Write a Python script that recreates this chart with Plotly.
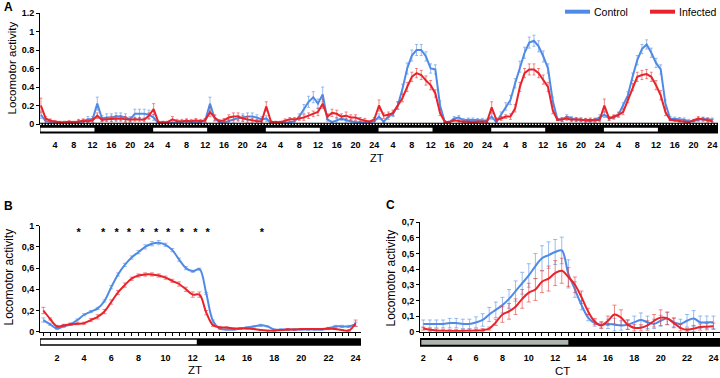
import plotly.graph_objects as go

# ---------------- Panel A : 6 days, hourly means ----------------
ZT_A = list(range(1, 145))
CTRL_A = [
    # day 1
    0.10, 0.03, 0.025, 0.02, 0.01, 0.01, 0.01, 0.01, 0.02, 0.03, 0.05, 0.05,
    0.22, 0.06, 0.07, 0.07, 0.08, 0.08, 0.07, 0.05, 0.11, 0.11, 0.11, 0.10,
    # day 2
    0.07, 0.01, 0.01, 0.01, 0.01, 0.02, 0.02, 0.03, 0.02, 0.02, 0.02, 0.04,
    0.22, 0.06, 0.02, 0.02, 0.03, 0.05, 0.06, 0.07, 0.08, 0.08, 0.07, 0.05,
    # day 3
    0.06, 0.01, 0.01, 0.01, 0.015, 0.02, 0.03, 0.08, 0.16, 0.24, 0.29, 0.22,
    0.32, 0.05, 0.02, 0.04, 0.06, 0.04, 0.03, 0.02, 0.02, 0.02, 0.02, 0.03,
    # day 4
    0.08, 0.025, 0.08, 0.11, 0.20, 0.38, 0.60, 0.74, 0.80, 0.80, 0.73, 0.60,
    0.59, 0.20, 0.025, 0.02, 0.06, 0.07, 0.04, 0.045, 0.045, 0.04, 0.04, 0.035,
    # day 5
    0.08, 0.02, 0.10, 0.19, 0.26, 0.44, 0.62, 0.77, 0.88, 0.90, 0.84, 0.73,
    0.60, 0.25, 0.05, 0.045, 0.08, 0.06, 0.045, 0.045, 0.04, 0.03, 0.045, 0.07,
    # day 6
    0.10, 0.06, 0.07, 0.10, 0.20, 0.31, 0.51, 0.69, 0.81, 0.86, 0.77, 0.66,
    0.59, 0.22, 0.06, 0.055, 0.05, 0.045, 0.03, 0.03, 0.045, 0.055, 0.05, 0.045,
]
INF_A = [
    0.20, 0.06, 0.035, 0.025, 0.02, 0.02, 0.025, 0.02, 0.03, 0.035, 0.03, 0.04,
    0.09, 0.045, 0.05, 0.055, 0.06, 0.06, 0.05, 0.045, 0.05, 0.05, 0.045, 0.09,
    0.16, 0.02, 0.02, 0.02, 0.05, 0.03, 0.03, 0.035, 0.03, 0.04, 0.03, 0.04,
    0.13, 0.07, 0.03, 0.04, 0.07, 0.08, 0.08, 0.06, 0.05, 0.04, 0.03, 0.03,
    0.19, 0.025, 0.02, 0.02, 0.035, 0.05, 0.05, 0.06, 0.07, 0.09, 0.11, 0.13,
    0.22, 0.08, 0.12, 0.11, 0.08, 0.09, 0.07, 0.07, 0.05, 0.04, 0.025, 0.05,
    0.20, 0.09, 0.10, 0.12, 0.20, 0.28, 0.40, 0.51, 0.55, 0.53, 0.47, 0.42,
    0.33, 0.12, 0.025, 0.02, 0.04, 0.03, 0.025, 0.025, 0.02, 0.025, 0.025, 0.025,
    0.18, 0.045, 0.06, 0.08, 0.08, 0.17, 0.40, 0.55, 0.59, 0.59, 0.55, 0.48,
    0.40, 0.15, 0.045, 0.05, 0.06, 0.045, 0.05, 0.045, 0.04, 0.045, 0.04, 0.045,
    0.20, 0.06, 0.08, 0.10, 0.13, 0.26, 0.40, 0.51, 0.53, 0.54, 0.51, 0.42,
    0.31, 0.13, 0.045, 0.04, 0.03, 0.03, 0.02, 0.04, 0.06, 0.05, 0.04, 0.03,
]
CTRL_A_ERR = [
    0.04, 0.02, 0.02, 0.01, 0.01, 0.01, 0.01, 0.01, 0.02, 0.02, 0.03, 0.03,
    0.07, 0.03, 0.04, 0.04, 0.04, 0.04, 0.04, 0.03, 0.05, 0.05, 0.05, 0.05,
    0.03, 0.01, 0.01, 0.01, 0.01, 0.01, 0.01, 0.02, 0.01, 0.01, 0.01, 0.02,
    0.07, 0.03, 0.01, 0.01, 0.02, 0.03, 0.03, 0.04, 0.04, 0.04, 0.03, 0.03,
    0.03, 0.01, 0.01, 0.01, 0.01, 0.01, 0.02, 0.03, 0.05, 0.06, 0.06, 0.05,
    0.08, 0.02, 0.01, 0.02, 0.02, 0.02, 0.02, 0.01, 0.01, 0.01, 0.01, 0.02,
    0.03, 0.01, 0.03, 0.03, 0.04, 0.05, 0.06, 0.06, 0.06, 0.06, 0.05, 0.05,
    0.05, 0.05, 0.01, 0.01, 0.02, 0.02, 0.02, 0.02, 0.02, 0.02, 0.02, 0.02,
    0.03, 0.01, 0.03, 0.04, 0.05, 0.05, 0.06, 0.06, 0.06, 0.06, 0.06, 0.06,
    0.05, 0.04, 0.01, 0.02, 0.02, 0.02, 0.02, 0.02, 0.02, 0.02, 0.02, 0.03,
    0.03, 0.02, 0.02, 0.03, 0.03, 0.04, 0.04, 0.05, 0.05, 0.05, 0.05, 0.05,
    0.05, 0.04, 0.02, 0.02, 0.02, 0.02, 0.02, 0.01, 0.02, 0.02, 0.02, 0.02,
]
INF_A_ERR = [
    0.08, 0.02, 0.02, 0.01, 0.01, 0.01, 0.01, 0.01, 0.02, 0.02, 0.02, 0.02,
    0.03, 0.02, 0.02, 0.03, 0.03, 0.03, 0.03, 0.02, 0.02, 0.02, 0.02, 0.03,
    0.06, 0.01, 0.01, 0.01, 0.03, 0.02, 0.02, 0.02, 0.02, 0.02, 0.02, 0.02,
    0.05, 0.03, 0.02, 0.02, 0.03, 0.04, 0.04, 0.03, 0.03, 0.02, 0.02, 0.02,
    0.05, 0.01, 0.01, 0.01, 0.02, 0.02, 0.02, 0.02, 0.03, 0.03, 0.03, 0.04,
    0.05, 0.03, 0.04, 0.04, 0.03, 0.04, 0.03, 0.03, 0.02, 0.02, 0.01, 0.02,
    0.06, 0.03, 0.03, 0.03, 0.04, 0.04, 0.05, 0.05, 0.05, 0.05, 0.05, 0.05,
    0.04, 0.03, 0.01, 0.01, 0.01, 0.01, 0.01, 0.01, 0.01, 0.01, 0.01, 0.01,
    0.06, 0.02, 0.02, 0.02, 0.03, 0.04, 0.05, 0.05, 0.06, 0.06, 0.05, 0.05,
    0.05, 0.04, 0.01, 0.02, 0.02, 0.02, 0.02, 0.02, 0.02, 0.02, 0.02, 0.02,
    0.07, 0.02, 0.02, 0.02, 0.03, 0.03, 0.04, 0.05, 0.05, 0.05, 0.05, 0.05,
    0.05, 0.04, 0.01, 0.01, 0.01, 0.01, 0.01, 0.01, 0.02, 0.02, 0.02, 0.02,
]
A_DAY_TICKS = [4, 8, 12, 16, 20, 24]
N_DAYS = 6

# ---------------- Panel B : mean day profile (ZT) ----------------
ZT_B = [1 + 0.5 * i for i in range(47)]
CTRL_B = [
    0.11, 0.07, 0.03, 0.05, 0.07, 0.11, 0.16, 0.19, 0.22, 0.29, 0.42, 0.54,
    0.63, 0.70, 0.75, 0.80, 0.83, 0.84, 0.82, 0.77, 0.68, 0.60, 0.57, 0.59,
    0.36, 0.10, 0.03, 0.02, 0.02, 0.03, 0.04, 0.05, 0.06, 0.05, 0.02, 0.02,
    0.02, 0.02, 0.02, 0.02, 0.02, 0.02, 0.03, 0.05, 0.05, 0.05, 0.07,
]
INF_B = [
    0.20, 0.12, 0.05, 0.06, 0.07, 0.075, 0.08, 0.11, 0.14, 0.19, 0.28, 0.37,
    0.44, 0.50, 0.53, 0.54, 0.54, 0.53, 0.51, 0.48, 0.45, 0.40, 0.35, 0.35,
    0.18, 0.06, 0.04, 0.04, 0.03, 0.03, 0.03, 0.025, 0.015, 0.01, 0.01, 0.015,
    0.02, 0.02, 0.025, 0.025, 0.025, 0.025, 0.03, 0.025, 0.015, 0.01, 0.08,
]
CTRL_B_ERR = [
    0.02, 0.01, 0.01, 0.01, 0.01, 0.01, 0.01, 0.01, 0.01, 0.01, 0.015, 0.015,
    0.015, 0.015, 0.015, 0.02, 0.02, 0.02, 0.015, 0.015, 0.015, 0.015, 0.01, 0.01,
    0.01, 0.01, 0.01, 0.005, 0.005, 0.005, 0.005, 0.005, 0.01, 0.005, 0.005, 0.005,
    0.005, 0.005, 0.005, 0.005, 0.005, 0.005, 0.01, 0.01, 0.01, 0.01, 0.02,
]
INF_B_ERR = [
    0.03, 0.01, 0.01, 0.01, 0.01, 0.01, 0.01, 0.015, 0.02, 0.02, 0.02, 0.02,
    0.02, 0.015, 0.015, 0.015, 0.015, 0.015, 0.015, 0.015, 0.02, 0.02, 0.025, 0.025,
    0.02, 0.01, 0.01, 0.005, 0.005, 0.005, 0.005, 0.005, 0.005, 0.005, 0.005, 0.005,
    0.01, 0.005, 0.005, 0.005, 0.005, 0.005, 0.01, 0.005, 0.005, 0.01, 0.03,
]
STAR_ZT = [3.6, 5.4, 6.4, 7.3, 8.3, 9.3, 10.2, 11.2, 12.2, 13.1, 17.1]
STAR_LEVEL = 0.93

# ---------------- Panel C : constant darkness (CT) ----------------
CT_C = [2 + 0.5 * i for i in range(45)]
CTRL_C = [
    0.05, 0.05, 0.05, 0.05, 0.055, 0.055, 0.05, 0.05, 0.06, 0.075, 0.11, 0.14,
    0.17, 0.21, 0.26, 0.31, 0.36, 0.42, 0.47, 0.49, 0.51, 0.52, 0.37, 0.27,
    0.17, 0.09, 0.055, 0.045, 0.05, 0.045, 0.04, 0.045, 0.06, 0.075, 0.06, 0.05,
    0.07, 0.085, 0.06, 0.05, 0.07, 0.085, 0.06, 0.06, 0.06,
]
INF_C = [
    0.02, 0.012, 0.008, 0.006, 0.005, 0.005, 0.005, 0.006, 0.007, 0.01, 0.02, 0.06,
    0.11, 0.13, 0.16, 0.21, 0.25, 0.27, 0.32, 0.34, 0.375, 0.39, 0.35, 0.30,
    0.22, 0.13, 0.065, 0.04, 0.07, 0.11, 0.09, 0.045, 0.025, 0.025, 0.04, 0.07,
    0.09, 0.085, 0.055, 0.025, 0.012, 0.02, 0.03, 0.032, 0.035,
]
CTRL_C_ERR = [
    0.025, 0.025, 0.025, 0.025, 0.03, 0.03, 0.03, 0.03, 0.035, 0.04, 0.045, 0.05,
    0.05, 0.06, 0.065, 0.07, 0.075, 0.08, 0.08, 0.085, 0.08, 0.085, 0.09, 0.05,
    0.03, 0.02, 0.02, 0.02, 0.03, 0.04, 0.03, 0.03, 0.04, 0.045, 0.04, 0.03,
    0.035, 0.04, 0.03, 0.03, 0.04, 0.05, 0.04, 0.04, 0.04,
]
INF_C_ERR = [
    0.01, 0.01, 0.01, 0.01, 0.01, 0.01, 0.01, 0.01, 0.01, 0.01, 0.01, 0.02,
    0.05, 0.05, 0.05, 0.06, 0.06, 0.07, 0.07, 0.08, 0.08, 0.08, 0.06, 0.05,
    0.04, 0.02, 0.02, 0.02, 0.03, 0.06, 0.05, 0.03, 0.02, 0.02, 0.03, 0.04,
    0.05, 0.04, 0.03, 0.02, 0.01, 0.02, 0.02, 0.02, 0.02,
]
SERIES_NAMES = ["Control", "Infected"]

# ---------------- styling ----------------
W, H = 720, 378
BLUE = "#4f8be6"
RED = "#e8232b"
BLUE_ERR = "rgba(90,145,230,0.6)"
RED_ERR = "rgba(232,60,60,0.6)"
FONT = "Liberation Sans, Arial, sans-serif"


def py(p):
    return 1 - p / H


def series(x, y, err, color, ecolor, xa, ya, shape, ew, name):
    return go.Scatter(
        x=x, y=y, mode="lines", xaxis=xa, yaxis=ya, showlegend=False, name=name,
        hoverinfo="skip", line=dict(color=color, width=2, shape=shape, smoothing=1.0),
        error_y=dict(type="data", array=err, visible=True, color=ecolor,
                     thickness=1, width=ew),
    )


fig = go.Figure()
fig.add_trace(series(ZT_A, CTRL_A, CTRL_A_ERR, BLUE, BLUE_ERR, "x", "y", "linear", 1.5, SERIES_NAMES[0]))
fig.add_trace(series(ZT_A, INF_A, INF_A_ERR, RED, RED_ERR, "x", "y", "linear", 1.5, SERIES_NAMES[1]))
fig.add_trace(series(ZT_B, CTRL_B, CTRL_B_ERR, BLUE, BLUE_ERR, "x2", "y2", "spline", 2, SERIES_NAMES[0]))
fig.add_trace(series(ZT_B, INF_B, INF_B_ERR, RED, RED_ERR, "x2", "y2", "spline", 2, SERIES_NAMES[1]))
fig.add_trace(series(CT_C, CTRL_C, CTRL_C_ERR, BLUE, BLUE_ERR, "x3", "y3", "spline", 2, SERIES_NAMES[0]))
fig.add_trace(series(CT_C, INF_C, INF_C_ERR, RED, RED_ERR, "x3", "y3", "spline", 2, SERIES_NAMES[1]))

# significance stars
fig.add_trace(go.Scatter(
    x=STAR_ZT, y=[STAR_LEVEL] * len(STAR_ZT), mode="text", text=["*"] * len(STAR_ZT),
    textfont=dict(family=FONT, size=11, color="black", weight="bold"),
    xaxis="x2", yaxis="y2", showlegend=False, hoverinfo="skip", cliponaxis=False,
))

tickfont = dict(family=FONT, size=9, color="black", weight="bold")
base_ax = dict(showline=True, linecolor="black", linewidth=1, showgrid=False,
               zeroline=False, tickfont=tickfont, tickcolor="black", tickwidth=1,
               automargin=False, ticklabeloverflow="allow")

a_tickvals = [d * 24 + t for d in range(N_DAYS) for t in A_DAY_TICKS]
a_ticktext = [str(t) for d in range(N_DAYS) for t in A_DAY_TICKS]

fig.update_layout(
    template="none",
    width=W, height=H, margin=dict(l=0, r=0, t=0, b=0, pad=0),
    paper_bgcolor="white", plot_bgcolor="white",
    font=dict(family=FONT, color="black"),
    showlegend=False,
    xaxis=dict(base_ax, domain=[40 / W, 718 / W], range=[0.8, 145.2], anchor="y",
               tickvals=a_tickvals, ticktext=a_ticktext, ticks="", ticklabelstandoff=12),
    yaxis=dict(base_ax, domain=[py(124), py(13)], range=[0, 1.2], anchor="x",
               tickvals=[0, 0.2, 0.4, 0.6, 0.8, 1.0, 1.2],
               ticktext=["0", "0.2", "0.4", "0.6", "0.8", "1", "1.2"],
               ticks="outside", ticklen=3),
    xaxis2=dict(base_ax, domain=[40 / W, 361 / W], range=[0.75, 24.4], anchor="y2",
                tickvals=list(range(2, 25, 2)), ticks="outside", ticklen=3,
                minor=dict(ticks="outside", ticklen=3, dtick=0.5, tick0=0,
                           tickcolor="black", tickwidth=1),
                ticklabelstandoff=14),
    yaxis2=dict(base_ax, domain=[py(331.7), py(225.7)], range=[0, 1], anchor="x2",
                tickvals=[0, 0.2, 0.4, 0.6, 0.8, 1.0],
                ticktext=["0", "0,2", "0,4", "0,6", "0,8", "1"],
                ticks="outside", ticklen=3),
    xaxis3=dict(base_ax, domain=[420 / W, 1.0], range=[1.75, 24.5], anchor="y3",
                tickvals=list(range(2, 25, 2)), ticks="outside", ticklen=3,
                minor=dict(ticks="outside", ticklen=3, dtick=0.5, tick0=0,
                           tickcolor="black", tickwidth=1),
                ticklabelstandoff=14),
    yaxis3=dict(base_ax, domain=[py(331.7), py(222.3)], range=[0, 0.7], anchor="x3",
                tickvals=[0, 0.1, 0.2, 0.3, 0.4, 0.5, 0.6, 0.7],
                ticktext=["0", "0,1", "0,2", "0,3", "0,4", "0,5", "0,6", "0,7"],
                ticks="outside", ticklen=3),
)

shapes = []
# Panel A light/dark bar
shapes.append(dict(type="rect", xref="x", yref="paper", x0=0.8, x1=145.2,
                   y0=py(133.5), y1=py(126), fillcolor="black", line=dict(width=0)))
for d in range(N_DAYS):
    shapes.append(dict(type="rect", xref="x", yref="paper",
                       x0=max(0.8, d * 24 + 0.9), x1=d * 24 + 12.4,
                       y0=py(131.6), y1=py(127.8), fillcolor="white", line=dict(width=0)))
# dotted baseline strip in panel A
shapes.append(dict(type="rect", xref="x", yref="paper", x0=0.8, x1=145.2,
                   y0=py(126), y1=py(122.8), fillcolor="black", line=dict(width=0)))
shapes.append(dict(type="line", xref="x", yref="paper", x0=0.8, x1=145.2,
                   y0=py(124.4), y1=py(124.4),
                   line=dict(color="white", width=1.2, dash="1.5px,1.5px")))
# Panel B bar
shapes.append(dict(type="rect", xref="x2", yref="paper", x0=0.75, x1=24.4,
                   y0=py(345.7), y1=py(338.3), fillcolor="black", line=dict(width=0)))
shapes.append(dict(type="rect", xref="x2", yref="paper", x0=0.8, x1=12.3,
                   y0=py(344.3), y1=py(339.7), fillcolor="white", line=dict(width=0)))
# Panel C bar
shapes.append(dict(type="rect", xref="x3", yref="paper", x0=1.75, x1=24.5,
                   y0=py(346.7), y1=py(338), fillcolor="black", line=dict(width=0)))
shapes.append(dict(type="rect", xref="x3", yref="paper", x0=1.85, x1=13.0,
                   y0=py(344.8), y1=py(340), fillcolor="#adb5ae", line=dict(width=0)))
# legend swatches
for x0, x1, col in [(565, 590, BLUE), (650, 675, RED)]:
    shapes.append(dict(type="line", xref="paper", yref="paper", x0=x0 / W, x1=x1 / W,
                       y0=py(11.7), y1=py(11.7), line=dict(color=col, width=4)))
fig.update_layout(shapes=shapes)

ann = []
def label(text, x, y, size, bold=False, angle=0, xanchor="center", yanchor="middle"):
    ann.append(dict(text=text, xref="paper", yref="paper", x=x / W, y=py(y),
                    showarrow=False, textangle=angle, xanchor=xanchor, yanchor=yanchor,
                    font=dict(family=FONT, size=size, color="black",
                              weight="bold" if bold else "normal")))

label(SERIES_NAMES[0], 592, 11.7, 10.5, xanchor="left")
label(SERIES_NAMES[1], 677, 11.7, 10.5, xanchor="left")
label("A", 2, 7, 12, bold=True, xanchor="left")
label("B", 2, 206, 12, bold=True, xanchor="left")
label("C", 384, 205, 12, bold=True, xanchor="left")
label("Locomotor activity", 11.5, 68, 11.5, angle=-90)
label("Locomotor activity", 8.5, 277, 12, angle=-90)
label("Locomotor activity", 390.5, 278, 12, angle=-90)
label("ZT", 377, 158, 11)
label("ZT", 195, 370, 11.5)
label("CT", 562, 371, 11.5)
fig.update_layout(annotations=ann)

fig.write_html("out.html", config={"displayModeBar": False},
               post_script="document.body.style.margin='0';document.body.style.padding='0';")
